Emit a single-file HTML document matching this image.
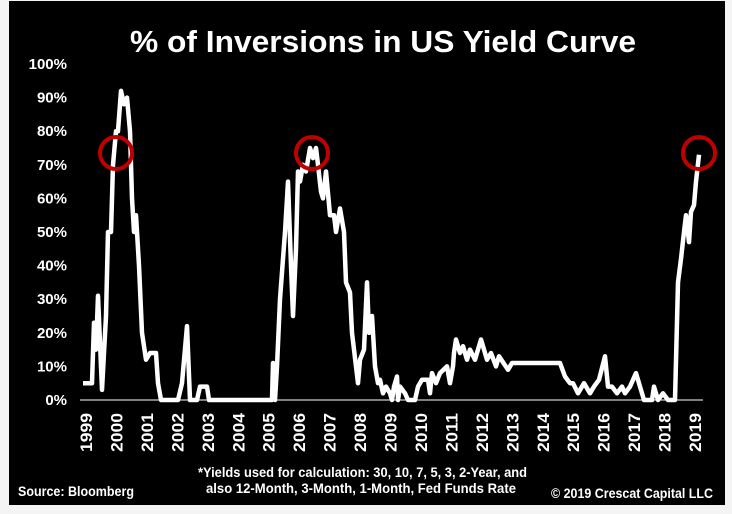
<!DOCTYPE html>
<html><head><meta charset="utf-8"><style>
html,body{margin:0;padding:0;background:#f4f4f4;width:732px;height:514px;overflow:hidden}
svg{position:absolute;left:0;top:0}
text{font-family:"Liberation Sans",Arial,sans-serif;fill:#fff;font-weight:bold}
</style></head><body>
<svg width="732" height="514" viewBox="0 0 732 514" id="s">
<rect x="9" y="1" width="716" height="504" fill="#000"/>
<text x="383" y="52" font-size="31" text-anchor="middle" textLength="506" lengthAdjust="spacingAndGlyphs">% of Inversions in US Yield Curve</text>
<g font-size="15" text-anchor="end" id="yl"></g>
<line x1="80" y1="400" x2="703" y2="400" stroke="#fff" stroke-width="1"/>
<g font-size="17" id="xl"></g>
<polyline id="pl" fill="none" stroke="#fff" stroke-width="4.5" stroke-linejoin="round"/>
<g fill="none" stroke="#c00000" stroke-width="4">
<circle cx="116" cy="153" r="16"/><circle cx="312" cy="153" r="16"/><circle cx="699" cy="153" r="16"/>
</g>
<text x="198" y="477" font-size="14" textLength="329" lengthAdjust="spacingAndGlyphs">*Yields used for calculation: 30, 10, 7, 5, 3, 2-Year, and</text>
<text x="206" y="493" font-size="14" textLength="310" lengthAdjust="spacingAndGlyphs">also 12-Month, 3-Month, 1-Month, Fed Funds Rate</text>
<text x="18" y="496" font-size="14" textLength="116" lengthAdjust="spacingAndGlyphs">Source: Bloomberg</text>
<text x="551" y="498" font-size="14" textLength="162" lengthAdjust="spacingAndGlyphs">© 2019 Crescat Capital LLC</text>
</svg>
<script>
var ns="http://www.w3.org/2000/svg";
function y(p){return 400-p*3.36}
var yl=document.getElementById('yl');
for(var i=0;i<=10;i++){var t=document.createElementNS(ns,'text');t.setAttribute('x',67);t.setAttribute('y',y(i*10)+5);t.textContent=(i*10)+'%';yl.appendChild(t);}
var xl=document.getElementById('xl');
for(var k=0;k<=20;k++){var x=86+k*30.45;var t=document.createElementNS(ns,'text');t.setAttribute('transform','translate('+(x+6)+',452) rotate(-90)');t.setAttribute('textLength','39');t.setAttribute('lengthAdjust','spacingAndGlyphs');t.textContent=1999+k;xl.appendChild(t);}
var d=[[83,5],[92,5],[94,23],[96,15],[98,31],[102,3],[106,25],[108,50],[111,50],[113,70],[116,80],[118,80],[121,92],[124,88],[127,90],[130,80],[132,60],[134,50],[136,55],[139,40],[142,20],[146,12],[150,14],[156,14],[158,5],[161,0],[178,0],[182,5],[187,22],[190,0],[197,0],[200,4],[207,4],[209,0],[272,0],[273,11],[275,0],[277,10],[280,30],[285,50],[288,65],[291,40],[293,25],[296,45],[298,68],[300,65],[303,70],[306,68],[310,75],[313,72],[316,75],[318,70],[321,62],[323,60],[326,68],[330,55],[334,55],[336,50],[340,57],[344,50],[346,35],[350,32],[352,20],[356,10],[358,5],[360,12],[364,15],[367,35],[369,20],[372,25],[375,10],[378,5],[380,6],[383,2],[386,4],[390,2],[392,0],[394,4],[397,7],[398,0],[400,4],[405,2],[408,0],[415,0],[418,4],[422,6],[428,6],[430,2],[432,8],[436,5],[440,8],[447,10],[450,5],[453,10],[454,14],[456,18],[460,14],[463,16],[467,12],[470,15],[475,12],[481,18],[487,12],[491,14],[496,10],[499,13],[508,9],[512,11],[560,11],[565,7],[570,5],[573,5],[578,2],[584,5],[590,2],[594,4],[599,6],[605,13],[608,4],[612,4],[617,2],[622,4],[625,2],[630,4],[636,8],[640,4],[644,0],[652,0],[654,4],[658,0],[663,2],[668,0],[675,0],[678,35],[681,42],[684,50],[686,55],[689,47],[691,56],[694,58],[696,65],[699,73]];
document.getElementById('pl').setAttribute('points',d.map(function(p){return p[0]+','+y(p[1]).toFixed(1)}).join(' '));
</script>
</body></html>
